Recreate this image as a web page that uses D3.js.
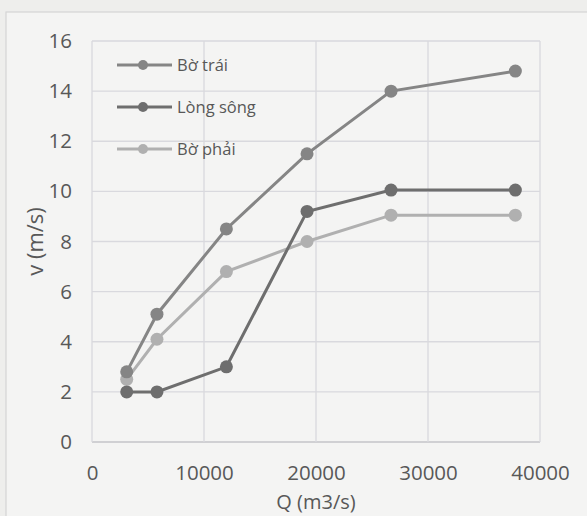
<!DOCTYPE html>
<html><head><meta charset="utf-8">
<script src="https://cdn.jsdelivr.net/npm/d3@7/dist/d3.min.js"></script>
<style>
html,body{margin:0;padding:0;background:#eeeeec;}
svg{display:block;}
</style></head>
<body>
<script>
const qValues = [3100, 5800, 12000, 19200, 26700, 37800];
const seriesNames = ["Bờ trái", "Lòng sông", "Bờ phải"];
const boTrai = [2.8, 5.1, 8.5, 11.5, 14.0, 14.8];
const longSong = [2.0, 2.0, 3.0, 9.2, 10.05, 10.05];
const boPhai = [2.5, 4.1, 6.8, 8.0, 9.05, 9.05];
const xTicks = [0, 10000, 20000, 30000, 40000];
const yTicks = [0, 2, 4, 6, 8, 10, 12, 14, 16];
const colors = ["#858585", "#6e6e6e", "#b0b0b0"];

const W = 587, H = 516;
const m = {left: 92, right: 47, top: 41, bottom: 74};
const svg = d3.select("body").append("svg").attr("width", W).attr("height", H);
svg.append("rect").attr("x", 6).attr("y", 12).attr("width", W + 10).attr("height", H + 10)
  .attr("fill", "#f4f4f3").attr("stroke", "#d4d4d4").attr("stroke-width", 1.2);

const x = d3.scaleLinear().domain([0, 40000]).range([m.left, W - m.right]);
const y = d3.scaleLinear().domain([0, 16]).range([H - m.bottom, m.top]);

const font = "'Open Sans', 'Liberation Sans', sans-serif";

// gridlines
const g = svg.append("g");
g.selectAll("line.h").data(yTicks).join("line")
  .attr("x1", x(0)).attr("x2", x(40000)).attr("y1", d => y(d)).attr("y2", d => y(d))
  .attr("stroke", d => d === 0 ? "#c4c4c8" : "#d9d9de").attr("stroke-width", 1.3);
g.selectAll("line.v").data(xTicks).join("line")
  .attr("x1", d => x(d)).attr("x2", d => x(d)).attr("y1", y(0)).attr("y2", y(16))
  .attr("stroke", "#d9d9de").attr("stroke-width", 1.3);

// axes labels via d3 axes
const xAxis = svg.append("g").attr("transform", `translate(0,${y(0)})`)
  .call(d3.axisBottom(x).tickValues(xTicks).tickSize(0).tickPadding(23).tickFormat(d3.format("d")));
const yAxis = svg.append("g").attr("transform", `translate(${x(0)},0)`)
  .call(d3.axisLeft(y).tickValues(yTicks).tickSize(0).tickPadding(20).tickFormat(d3.format("d")));
[xAxis, yAxis].forEach(a => {
  a.select(".domain").remove();
  a.selectAll("text").attr("fill", "#585858").style("font-family", font).style("font-size", "20.5px");
});

svg.append("text").attr("x", (x(0) + x(40000)) / 2).attr("y", 509)
  .attr("text-anchor", "middle").attr("fill", "#585858")
  .style("font-family", font).style("font-size", "20px").text("Q (m3/s)");
svg.append("text").attr("transform", `translate(43,${(y(0) + y(16)) / 2}) rotate(-90)`)
  .attr("text-anchor", "middle").attr("fill", "#585858")
  .style("font-family", font).style("font-size", "22px").text("v (m/s)");

const series = [boTrai, longSong, boPhai];
const line = d3.line().x((d, i) => x(qValues[i])).y(d => y(d));
[2, 1, 0].forEach(k => {
  const s = series[k];
  svg.append("path").datum(s).attr("d", line).attr("fill", "none")
    .attr("stroke", colors[k]).attr("stroke-width", 3);
  svg.append("g").selectAll("circle").data(s).join("circle")
    .attr("cx", (d, i) => x(qValues[i])).attr("cy", d => y(d)).attr("r", 6.5)
    .attr("fill", colors[k]);
});

// legend
const lg = svg.append("g");
seriesNames.forEach((name, k) => {
  const yy = 65 + k * 42;
  lg.append("line").attr("x1", 117).attr("x2", 172).attr("y1", yy).attr("y2", yy)
    .attr("stroke", colors[k]).attr("stroke-width", 3);
  lg.append("circle").attr("cx", 143).attr("cy", yy).attr("r", 5).attr("fill", colors[k]);
  lg.append("text").attr("x", 177).attr("y", yy).attr("dy", "0.35em")
    .attr("fill", "#585858").style("font-family", font).style("font-size", "16.5px").text(name);
});
</script>
</body></html>
